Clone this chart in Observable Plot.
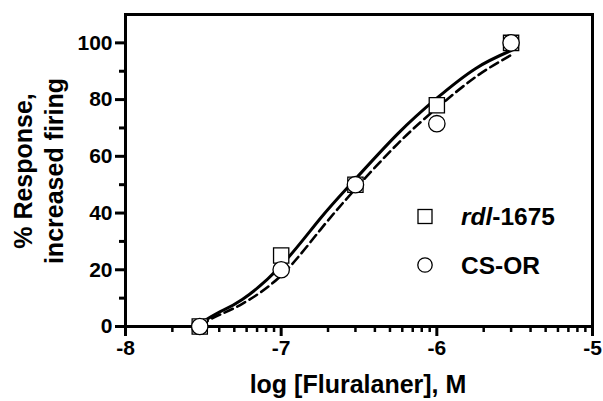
<!DOCTYPE html>
<html><head><meta charset="utf-8">
<script src="https://cdn.jsdelivr.net/npm/d3@7"></script>
<script src="https://cdn.jsdelivr.net/npm/@observablehq/plot@0.6"></script>
<style>
body{margin:0;background:#fff}
svg{font-family:"Liberation Sans",Arial,sans-serif}
</style>
</head><body><div id="chart"></div>
<script>
// measured points (log molar dose)
const doseLog = [-7.523, -7.0, -6.523, -6.0, -5.523];
const rdlResponse = [0, 25, 50, 78, 100];
const csorResponse = [0, 20, 50, 71.5, 100];
// fitted curves
const fitLog = [-7.523, -7.4, -7.25, -7.0, -6.75, -6.523, -6.25, -6.0, -5.75, -5.523];
const rdlFit = [1, 5, 9.5, 21.5, 38, 52, 68, 80.5, 91, 97.3];
const csorFit = [0.5, 4, 8, 18, 34, 48.5, 64.5, 77, 88, 95.7];
// ticks
const xMajorTicks = [-8, -7, -6, -5];
const xDecades = [-8, -7, -6];
const minorFactors = [2, 3, 4, 5, 6, 7, 8, 9];
const yMajorTicks = [0, 20, 40, 60, 80, 100];
const yMinorTicks = [10, 30, 50, 70, 90];
const seriesNames = ["rdl-1675", "CS-OR"];
const xTitle = "log [Fluralaner], M";
const yTitle = ["% Response,", "increased firing"];

const xMinorTicks = xDecades.flatMap(d => minorFactors.map(k => d + Math.log10(k)));
const fit = fitLog.map((x, i) => ({x, rdl: rdlFit[i], cs: csorFit[i]}));
const pts = doseLog.map((x, i) => ({x, rdl: rdlResponse[i], cs: csorResponse[i]}));

const plot = Plot.plot({
  width: 603, height: 401,
  marginLeft: 125, marginRight: 11, marginTop: 14, marginBottom: 75,
  x: {domain: [-8, -5], label: null},
  y: {domain: [0, 110], label: null},
  style: {fontFamily: '"Liberation Sans", Arial, sans-serif', fontSize: "21px", fontWeight: "bold", color: "black", background: "white", overflow: "visible"},
  marks: [
    Plot.line(fit, {x: "x", y: "rdl", curve: "natural", stroke: "black", strokeWidth: 3}),
    Plot.line(fit, {x: "x", y: "cs", curve: "natural", stroke: "black", strokeWidth: 2.6, strokeDasharray: "9,5"}),
    Plot.axisX({ticks: xMajorTicks, tickSize: 10, tickPadding: 4, strokeWidth: 3, tickFormat: d => String(d), label: null}),
    Plot.axisX({ticks: xMinorTicks, tickSize: 6, strokeWidth: 2.5, fill: "none", label: null}),
    Plot.axisY({ticks: yMajorTicks, tickSize: 10, tickPadding: 3, strokeWidth: 3, label: null}),
    Plot.axisY({ticks: yMinorTicks, tickSize: 6, strokeWidth: 3, fill: "none", label: null}),
    Plot.frame({stroke: "black", strokeWidth: 3}),
    Plot.dot(pts, {x: "x", y: "rdl", symbol: "square", r: 8.6, fill: "white", stroke: "black", strokeWidth: 1.3}),
    Plot.dot(pts, {x: "x", y: "cs", symbol: "circle", r: 8.2, fill: "white", stroke: "black", strokeWidth: 1.3})
  ]
});
document.getElementById("chart").appendChild(plot);

const svg = d3.select(plot);
const titleFont = "25px";
const legendFont = "24.5px";
svg.append("text").attr("x", 358).attr("y", 393).attr("text-anchor", "middle")
  .attr("font-size", titleFont).attr("font-weight", "bold").attr("fill", "black").text(xTitle);
[31.5, 62.5].forEach((bx, i) => {
  svg.append("text").attr("transform", `translate(${bx},171) rotate(-90)`).attr("text-anchor", "middle")
    .attr("font-size", titleFont).attr("font-weight", "bold").attr("fill", "black").text(yTitle[i]);
});
// legend
const lg = svg.append("g").attr("text-anchor", "start");
lg.append("rect").attr("x", 418).attr("y", 209.5).attr("width", 14).attr("height", 14)
  .attr("fill", "white").attr("stroke", "black").attr("stroke-width", 1.3);
lg.append("circle").attr("cx", 425).attr("cy", 265).attr("r", 7.2)
  .attr("fill", "white").attr("stroke", "black").attr("stroke-width", 1.3);
const t1 = lg.append("text").attr("x", 461).attr("y", 225).attr("text-anchor", "start").attr("font-size", legendFont).attr("font-weight", "bold").attr("fill", "black");
const parts = seriesNames[0].split("-");
t1.append("tspan").attr("font-style", "italic").text(parts[0]);
t1.append("tspan").text("-" + parts[1]);
lg.append("text").attr("x", 461).attr("y", 274).attr("text-anchor", "start").attr("font-size", legendFont).attr("font-weight", "bold").attr("fill", "black").text(seriesNames[1]);
</script>
</body></html>
